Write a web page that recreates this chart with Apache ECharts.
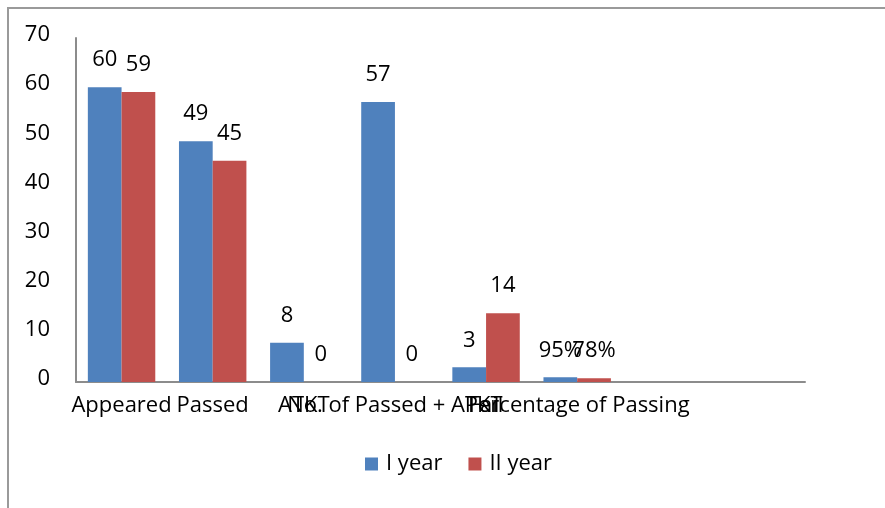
<!DOCTYPE html>
<html>
<head>
<meta charset="utf-8">
<script src="https://cdn.jsdelivr.net/npm/echarts@6/dist/echarts.min.js"></script>
<style>
  html, body { margin: 0; padding: 0; background: #fff; }
  #chart { width: 885px; height: 508px; }
</style>
</head>
<body>
<div id="chart"></div>
<script>
const categories = ['Appeared', 'Passed', 'ATKT', 'No. of Passed + ATKT', 'Fail', 'Percentage of Passing', '', '']
const firstYear = [60, 49, 8, 57, 3, 0.95, null, null]
const secondYear = [59, 45, 0, 0, 14, 0.78, null, null]
const percentIndex = 5

const BLUE = '#4F81BD'
const RED = '#C0504D'
const FONT = '"Open Sans", sans-serif'
const FONT_SIZE = 22

const chart = echarts.init(document.getElementById('chart'))

function labelText(p) {
  if (p.dataIndex === percentIndex) return Math.round(p.value * 100) + '%'
  return p.value
}

const barLabel = {
  show: true,
  position: 'top',
  distance: 16,
  color: '#000',
  fontFamily: FONT,
  fontSize: FONT_SIZE,
  formatter: labelText,
}

chart.setOption({
  backgroundColor: '#fff',
  animation: false,
  graphic: [{
    type: 'rect',
    shape: { x: 8, y: 8, width: 900, height: 520 },
    style: { fill: 'none', stroke: '#9a9a9a', lineWidth: 2 },
    silent: true,
  }],
  legend: {
    bottom: 28,
    left: 360,
    itemWidth: 13,
    itemHeight: 13,
    itemGap: 26,
    icon: 'rect',
    textStyle: { fontFamily: FONT, fontSize: FONT_SIZE, color: '#000', padding: [0, 0, 0, 3] },
    data: ['I year', 'II year'],
  },
  grid: { left: 76, right: 80, top: 38, bottom: 126 },
  xAxis: {
    type: 'category',
    data: categories,
    axisLine: { lineStyle: { color: '#8c8c8c', width: 2 } },
    axisTick: { show: false },
    axisLabel: {
      interval: 0,
      margin: 13,
      color: '#000',
      fontFamily: FONT,
      fontSize: FONT_SIZE,
    },
  },
  yAxis: {
    type: 'value',
    min: 0,
    max: 70,
    interval: 10,
    axisLine: { show: true, lineStyle: { color: '#8c8c8c', width: 2 } },
    axisTick: { show: false },
    splitLine: { show: false },
    axisLabel: {
      margin: 26,
      verticalAlign: 'bottom',
      lineHeight: 6,
      color: '#000',
      fontFamily: FONT,
      fontSize: FONT_SIZE,
    },
  },
  series: [
    {
      name: 'I year',
      type: 'bar',
      data: firstYear,
      barGap: '0%',
      barCategoryGap: '26%',
      itemStyle: { color: BLUE },
      label: barLabel,
    },
    {
      name: 'II year',
      type: 'bar',
      data: secondYear,
      itemStyle: { color: RED },
      label: barLabel,
    },
  ],
})
</script>
</body>
</html>
